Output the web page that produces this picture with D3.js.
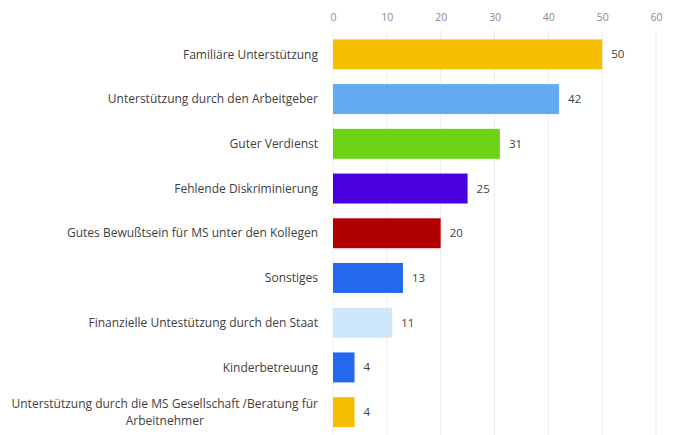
<!DOCTYPE html>
<html><head><meta charset="utf-8">
<script src="https://cdn.jsdelivr.net/npm/d3@7"></script>
<style>body{margin:0;background:#fff;} text{font-family:"Open Sans",sans-serif;}</style>
</head><body>
<svg id="c" width="683" height="435"></svg>
<script>
const categories = [
  "Familiäre Unterstützung",
  "Unterstützung durch den Arbeitgeber",
  "Guter Verdienst",
  "Fehlende Diskriminierung",
  "Gutes Bewußtsein für MS unter den Kollegen",
  "Sonstiges",
  "Finanzielle Untestützung durch den Staat",
  "Kinderbetreuung",
  "Unterstützung durch die MS Gesellschaft /Beratung für|Arbeitnehmer"
];
const values = [50, 42, 31, 25, 20, 13, 11, 4, 4];
const colors = ["#F5BE00","#62AAF2","#6BD313","#4B00DF","#B00000","#2468EE","#CFE7FA","#2468EE","#F5BE00"];
const ticks = [0,10,20,30,40,50,60];

const svg = d3.select("#c");
const m = {left:333, right:27, top:32, bottom:0};
const W = 683, H = 435;
const x = d3.scaleLinear().domain([0,60]).range([m.left, W - m.right]);
const y = d3.scaleBand().domain(d3.range(categories.length)).range([32, 434.5]).paddingInner(0.33).paddingOuter(0.165);

// gridlines
svg.append("g").selectAll("line").data(ticks).join("line")
  .attr("x1", d=>x(d)).attr("x2", d=>x(d)).attr("y1", 30).attr("y2", 435)
  .attr("stroke", "#ececec").attr("stroke-width", 1);

// top axis
const ax = svg.append("g").attr("transform", "translate(0,22)")
  .call(d3.axisTop(x).tickValues(ticks).tickSize(0).tickPadding(0));
ax.select(".domain").remove();
ax.selectAll("text").attr("fill", "#8a8a8a").style("font-size", "10.5px").attr("dy", "-0.1em");

// bars
svg.append("g").selectAll("rect").data(values).join("rect")
  .attr("x", x(0)).attr("y", (d,i)=>y(i)).attr("width", d=>x(d)-x(0)).attr("height", y.bandwidth())
  .attr("fill", (d,i)=>colors[i]);

// value labels
svg.append("g").selectAll("text").data(values).join("text")
  .attr("x", d=>x(d)+9).attr("y", (d,i)=>y(i)+y.bandwidth()/2).attr("dy","0.35em")
  .attr("fill", "#404040").style("font-size","11.5px").text(d=>d);

// category labels
const lg = svg.append("g");
categories.forEach((c,i)=>{
  const lines = c.split("|");
  const cy = y(i)+y.bandwidth()/2;
  const lh = 17;
  const t0 = lg.append("text").attr("x", x(0)-15).attr("text-anchor","end")
    .attr("fill","#404040").style("font-size","12px")
    .attr("y", cy - (lines.length-1)*lh/2).attr("dy","0.35em").text(lines[0]);
  if (lines.length > 1) {
    const w = t0.node().getComputedTextLength();
    const cx = x(0)-15 - w/2;
    lines.slice(1).forEach((l,j)=>{
      lg.append("text").attr("x", cx).attr("text-anchor","middle")
        .attr("fill","#404040").style("font-size","12px")
        .attr("y", cy - (lines.length-1)*lh/2 + (j+1)*lh).attr("dy","0.35em").text(l);
    });
  }
});
</script>
</body></html>
